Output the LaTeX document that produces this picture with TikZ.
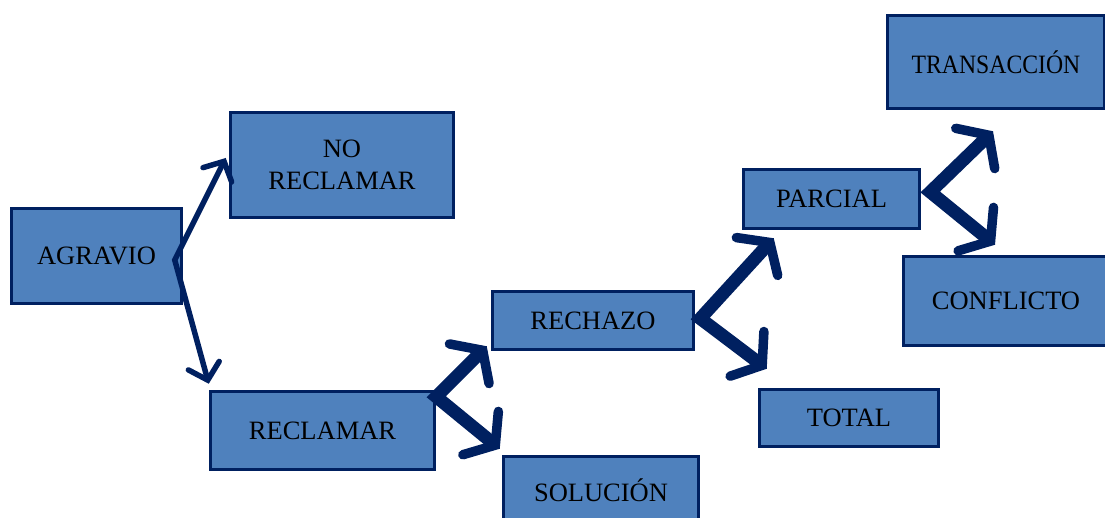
\documentclass[tikz,border=0pt]{standalone}
\usepackage{fontspec}
\setmainfont{Liberation Serif}
\usetikzlibrary{arrows.meta,calc}
\definecolor{navy}{RGB}{0,32,96}
\definecolor{boxblue}{RGB}{79,129,189}
\begin{document}
\begin{tikzpicture}[x=1pt,y=-1pt,
  box/.style={draw=navy, fill=boxblue, line width=3.5pt, inner sep=0pt,
    font=\fontsize{26.5}{32}\selectfont, align=center},
  thinarr/.style={draw=navy, line width=5.5pt, line cap=round, line join=miter,
    {Straight Barb[length=15pt,width=32pt,line cap=round]}-{Straight Barb[length=15pt,width=32pt,line cap=round]}},
  thickarr/.style={draw=navy, line width=13pt, line join=miter,
    {Straight Barb[length=19pt,width=56pt,line width=9.5pt,line cap=round,line join=miter]}-{Straight Barb[length=19pt,width=56pt,line width=9.5pt,line cap=round,line join=miter]}},
]
\useasboundingbox (0,0) rectangle (1105,518);
\clip (0,0) rectangle (1105,518);
\fill[white] (0,0) rectangle (1105,518);

\node[box, minimum width=170pt, minimum height=95pt] (agr) at (96.5,256) {AGRAVIO};
\node[box, minimum width=223pt, minimum height=105pt] (norec) at (342,165) {NO\\RECLAMAR};
\node[box, minimum width=224pt, minimum height=78pt] (recl) at (322.5,430.5) {RECLAMAR};
\node[box, minimum width=201pt, minimum height=58pt] (rech) at (593,320.5) {RECHAZO};
\node[box, minimum width=195pt, minimum height=67pt] (sol) at (601,490) {SOLUCIÓN};
\node[box, minimum width=176pt, minimum height=59pt] (parc) at (831.5,199) {PARCIAL};
\node[box, minimum width=179pt, minimum height=57pt] (tot) at (849,418) {TOTAL};
\node[box, minimum width=217pt, minimum height=93pt] (trans) at (996,62) {\scalebox{0.895}[1]{TRANSACCIÓN}};
\node[box, minimum width=205pt, minimum height=89pt] (confl) at (1006,301) {CONFLICTO};

\draw[thinarr] ($(norec.west)+(-3,-7)$) -- ($(agr.east)+(-8.5,4)$) -- ($(recl.north west)+(0,-6)$);
\draw[thickarr] ($(rech.south west)+(-4,-5)$) -- ($(recl.north east)+(0,7)$) -- ($(sol.north west)+(-2,-6)$);
\draw[thickarr] ($(parc.south west)+(32,8)$) -- ($(rech.east)+(5,-2)$) -- ($(tot.north west)+(9,-19)$);
\draw[thickarr] ($(trans.south)+(-3,21)$) -- ($(parc.east)+(9,-7)$) -- ($(confl.north)+(-11,-10)$);
\end{tikzpicture}
\end{document}
